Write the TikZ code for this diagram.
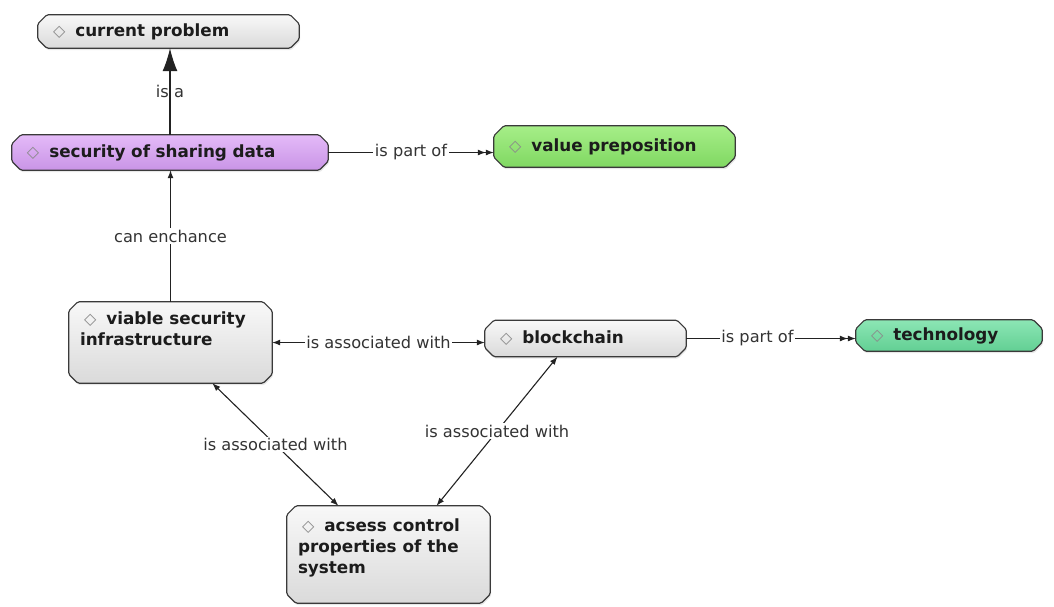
\documentclass[tikz,border=0pt]{standalone}
\usepackage{fontspec}
\setmainfont{DejaVu Sans}
\usetikzlibrary{arrows.meta,shadows,backgrounds}

\definecolor{edgeink}{HTML}{222222}
\definecolor{boxline}{HTML}{3A3A3A}
\definecolor{labelink}{HTML}{333333}
\definecolor{conceptink}{HTML}{1C1C1C}
\definecolor{diamondgray}{HTML}{8A8A8A}
\definecolor{greytop}{HTML}{F8F8F8}
\definecolor{greybot}{HTML}{DADADA}
\definecolor{purpletop}{HTML}{E4BAF8}
\definecolor{purplebot}{HTML}{C994E6}
\definecolor{limetop}{HTML}{A6EE88}
\definecolor{limebot}{HTML}{80D862}
\definecolor{minttop}{HTML}{8CE6B4}
\definecolor{mintbot}{HTML}{62CF94}

% small outlined diamond that opens every concept label
\newcommand{\conceptmark}{\hspace*{4pt}{\mdseries\fontsize{16}{16}\selectfont\color{diamondgray}◇}\hspace{10pt}}

% chamfered, slightly rounded outline around a named node: name, chamfer, fill style
\newcommand{\conceptoutline}[3]{%
  \path[outline, #3]
    ([xshift=#2]#1.north west) -- ([xshift=-#2]#1.north east)
    -- ([yshift=-#2]#1.north east) -- ([yshift=#2]#1.south east)
    -- ([xshift=-#2]#1.south east) -- ([xshift=#2]#1.south west)
    -- ([yshift=#2]#1.south west) -- ([yshift=-#2]#1.north west) -- cycle;}

\tikzset{
  concept/.style={rectangle, draw=none, inner xsep=11pt, inner ysep=0pt,
    align=left, text=conceptink,
    font=\fontsize{16.8}{21}\selectfont\bfseries},
  outline/.style={draw=boxline, line width=1.2pt, rounded corners=1.5pt,
    drop shadow={shadow xshift=1pt, shadow yshift=-2pt, opacity=0.18}},
  greyfill/.style={top color=greytop, bottom color=greybot},
  purplefill/.style={top color=purpletop, bottom color=purplebot},
  limefill/.style={top color=limetop, bottom color=limebot},
  mintfill/.style={top color=minttop, bottom color=mintbot},
  link/.style={draw=edgeink, line width=1.1pt},
  linklabel/.style={fill=white, inner sep=1.5pt, text=labelink,
    font=\fontsize{16.2}{19}\selectfont},
}

\begin{document}
\begin{tikzpicture}[x=1pt,y=-1pt]
\useasboundingbox (0,0) rectangle (1054,606);

% concepts
\node[concept, text width=239pt, minimum height=33pt] (cur) at (168.5,31.5)
  {\conceptmark current problem};
\node[concept, text width=294pt, minimum height=35pt] (sec) at (170,152.5)
  {\conceptmark security of sharing data};
\node[concept, text width=219pt, minimum height=41pt] (val) at (614.5,146.5)
  {\conceptmark value preposition};
\node[concept] (vsi) at (170.5,342.5)
  {\parbox[c][81pt][t]{181pt}{\raggedright\vspace*{10pt}\conceptmark viable security\\infrastructure}};
\node[concept, text width=179pt, minimum height=36pt] (bc) at (585.5,338.5)
  {\conceptmark blockchain};
\node[concept, text width=164pt, minimum height=31pt] (tech) at (949,335.5)
  {\conceptmark technology};
\node[concept] (acs) at (388.5,554.5)
  {\parbox[c][97pt][t]{181pt}{\raggedright\vspace*{13pt}\conceptmark acsess control\\properties of the\\system}};

% concept outlines behind the texts
\begin{pgfonlayer}{background}
  \conceptoutline{cur}{9pt}{greyfill}
  \conceptoutline{sec}{9pt}{purplefill}
  \conceptoutline{val}{10pt}{limefill}
  \conceptoutline{vsi}{9pt}{greyfill}
  \conceptoutline{bc}{9pt}{greyfill}
  \conceptoutline{tech}{9pt}{mintfill}
  \conceptoutline{acs}{9pt}{greyfill}
\end{pgfonlayer}

% links
\draw[link, -{Latex[length=23pt,width=15pt]}] (sec.north) -- (sec.north |- cur.south)
  node[midway, text=labelink, inner sep=1pt, font=\fontsize{16.2}{19}\selectfont] (isa) {is a};
\draw[link, -{Latex[length=8pt,width=6pt]}] (vsi.north) -- (vsi.north |- sec.south)
  node[linklabel, midway] (enh) {can enchance};
\draw[link, -{Latex[length=8pt,width=6pt]Latex[length=8pt,width=6pt]}] (sec.east) -- (sec.east -| val.west)
  node[linklabel, midway] (part1) {is part of};
\draw[link, {Latex[length=8pt,width=6pt]}-{Latex[length=8pt,width=6pt]}] (vsi.east) -- (vsi.east -| bc.west)
  node[linklabel, midway] (assoc1) {is associated with};
\draw[link, -{Latex[length=8pt,width=6pt]Latex[length=8pt,width=6pt]}] (bc.east) -- (bc.east -| tech.west)
  node[linklabel, pos=0.42] (part2) {is part of};
\draw[link, {Latex[length=8pt,width=6pt]}-{Latex[length=8pt,width=6pt]}] (vsi) -- (acs)
  node[linklabel, midway] (assoc2) {is associated with};
\draw[link, {Latex[length=8pt,width=6pt]}-{Latex[length=8pt,width=6pt]}] ([xshift=-28pt]bc.south) -- ([xshift=48pt]acs.north)
  node[linklabel, midway] (assoc3) {is associated with};
\end{tikzpicture}
\end{document}
